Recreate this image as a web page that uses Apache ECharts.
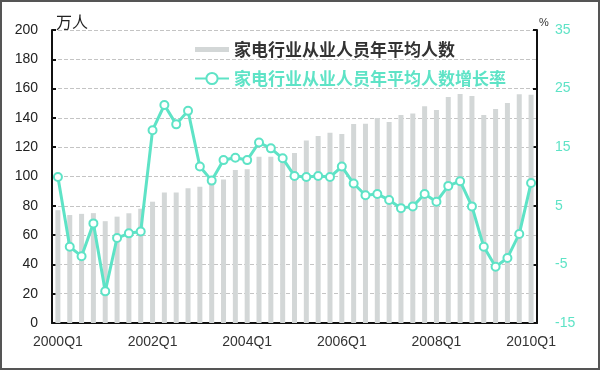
<!DOCTYPE html>
<html><head><meta charset="utf-8">
<script src="https://cdn.jsdelivr.net/npm/echarts@6/dist/echarts.min.js"></script>
<style>html,body{margin:0;padding:0;background:#fff}#c{width:600px;height:370px}</style>
</head><body><div id="c"></div>
<script>
var categories = ['2000Q1','2000Q2','2000Q3','2000Q4','2001Q1','2001Q2','2001Q3','2001Q4',
'2002Q1','2002Q2','2002Q3','2002Q4','2003Q1','2003Q2','2003Q3','2003Q4',
'2004Q1','2004Q2','2004Q3','2004Q4','2005Q1','2005Q2','2005Q3','2005Q4',
'2006Q1','2006Q2','2006Q3','2006Q4','2007Q1','2007Q2','2007Q3','2007Q4',
'2008Q1','2008Q2','2008Q3','2008Q4','2009Q1','2009Q2','2009Q3','2009Q4','2010Q1'];
var employees = [77,73.7,74.5,75,69.5,72.6,74.9,78,82.8,89,89,92,93,95,98,104.4,105,113.5,113.5,110,116,124.5,127.6,129.9,129,135.8,136,140,137.2,142,143,148,145.4,154.3,156.3,155,142,146,150.2,156.2,155.8];
var growth = [9.9,-2.0,-3.6,2.0,-9.6,-0.5,0.3,0.6,17.9,22.2,18.9,21.2,11.7,9.3,12.8,13.2,12.8,15.8,14.8,13.1,10.1,9.9,10.1,9.9,11.7,8.8,6.8,7.0,6.0,4.6,4.9,7.0,5.7,8.4,9.2,4.9,-2.0,-5.4,-3.9,0.2,8.9];
var leftTicks = {min:0, max:200, interval:20};
var rightTicks = {min:-15, max:35, interval:10};
var barName = '家电行业从业人员年平均人数';
var lineName = '家电行业从业人员年平均人数增长率';

var teal = '#5ee3c6';
var chart = echarts.init(document.getElementById('c'));
chart.setOption({
  animation:false,
  graphic:[{type:'rect',shape:{x:1,y:1,width:598,height:368},style:{fill:'none',stroke:'#555',lineWidth:2},silent:true}],
  grid:{left:52,right:63,top:30,bottom:47},
  legend:{
    orient:'vertical',left:189,top:36,itemGap:12,itemWidth:34,itemHeight:14,
    textStyle:{fontSize:17,fontWeight:'bold',fontFamily:'Noto Sans CJK SC'},
    data:[
      {name:barName,icon:'path://M0,0h34v5H0z',textStyle:{color:'#333'}},
      {name:lineName,textStyle:{color:teal}}
    ]
  },
  xAxis:{
    type:'category',data:categories,boundaryGap:true,
    axisLine:{lineStyle:{color:'#111',width:2}},
    axisTick:{inside:true,length:4,interval:1,lineStyle:{color:'#111',width:2}},
    axisLabel:{interval:7,margin:12,fontSize:14,color:'#333',fontFamily:'Liberation Sans'}
  },
  yAxis:[{
    type:'value',min:leftTicks.min,max:leftTicks.max,interval:leftTicks.interval,
    name:'万人',nameGap:0,nameTextStyle:{fontSize:16,color:'#222',align:'left',padding:[0,0,0,4],fontFamily:'Noto Sans CJK SC'},
    axisLine:{show:true,lineStyle:{color:'#111',width:2}},
    axisTick:{show:true,inside:true,length:4,lineStyle:{color:'#111',width:2}},
    axisLabel:{fontSize:14,color:'#222',margin:14,fontFamily:'Liberation Sans'},
    splitLine:{show:true,lineStyle:{type:'dashed',color:'#c4c4c4',width:1}}
  },{
    type:'value',min:rightTicks.min,max:rightTicks.max,interval:rightTicks.interval,
    name:'%',nameGap:2,nameTextStyle:{fontSize:11,color:'#333',align:'left',padding:[0,0,0,2]},
    axisLine:{show:true,lineStyle:{color:'#111',width:2}},
    axisTick:{show:true,inside:true,length:4,lineStyle:{color:'#111',width:2}},
    axisLabel:{fontSize:14,color:teal,margin:18,fontFamily:'Liberation Sans'},
    splitLine:{show:false}
  }],
  series:[{
    name:barName,type:'bar',data:employees,barWidth:5,yAxisIndex:0,
    itemStyle:{color:'#d3d7d7'}
  },{
    name:lineName,type:'line',data:growth,yAxisIndex:1,
    symbol:'circle',symbolSize:8,showAllSymbol:true,
    lineStyle:{color:teal,width:3},
    itemStyle:{color:'#fff',borderColor:teal,borderWidth:2}
  }]
});
</script></body></html>
